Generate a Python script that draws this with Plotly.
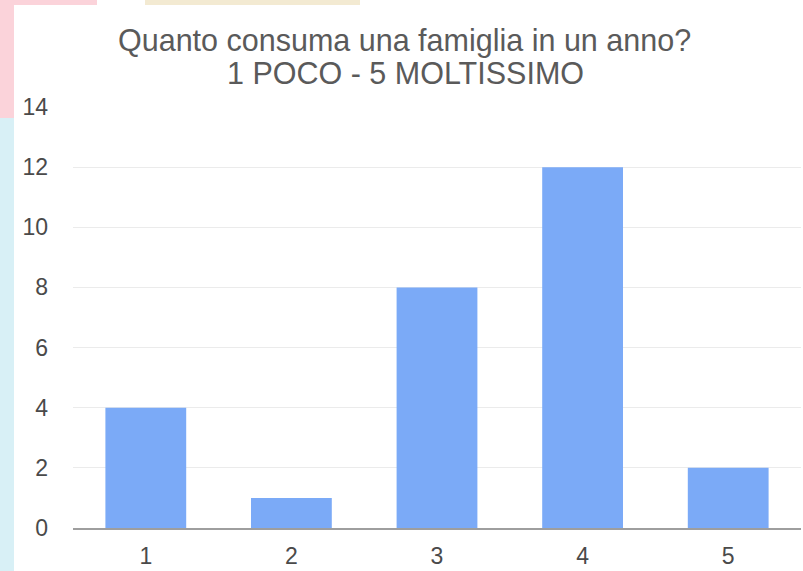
import plotly.graph_objects as go

categories = ["1", "2", "3", "4", "5"]
values = [4, 1, 8, 12, 2]
y_ticks = [0, 2, 4, 6, 8, 10, 12, 14]
title_lines = ["Quanto consuma una famiglia in un anno?", "1 POCO - 5 MOLTISSIMO"]

W, H = 803, 571
L, R, T, B = 73, 2, 107, 43
pw, ph = W - L - R, H - T - B

def px(x):
    return (x - L) / pw

def py(y):
    return (H - B - y) / ph

fig = go.Figure()
fig.add_trace(go.Bar(
    x=categories, y=values,
    marker=dict(color="#7baaf7", line=dict(width=0)),
    width=0.555,
))

shapes = [
    dict(type="rect", xref="paper", yref="paper", x0=px(0), x1=px(14), y0=py(0), y1=py(118),
         fillcolor="#fbd3da", line=dict(width=0), layer="below"),
    dict(type="rect", xref="paper", yref="paper", x0=px(0), x1=px(14), y0=py(118), y1=py(571),
         fillcolor="#d8f0f6", line=dict(width=0), layer="below"),
    dict(type="rect", xref="paper", yref="paper", x0=px(0), x1=px(97), y0=py(0), y1=py(5),
         fillcolor="#fbd3da", line=dict(width=0), layer="below"),
    dict(type="rect", xref="paper", yref="paper", x0=px(145), x1=px(360), y0=py(0), y1=py(5),
         fillcolor="#f3ead2", line=dict(width=0), layer="below"),
]

annotations = [
    dict(text=title_lines[0], xref="paper", yref="paper", x=px(404), y=py(41),
         xanchor="center", yanchor="middle", showarrow=False,
         font=dict(size=30.5, color="#5a5a5a")),
    dict(text=title_lines[1], xref="paper", yref="paper", x=px(405), y=py(73),
         xanchor="center", yanchor="middle", showarrow=False,
         font=dict(size=30.5, color="#5a5a5a")),
]

fig.update_layout(
    width=W, height=H,
    margin=dict(l=L, r=R, t=T, b=B),
    paper_bgcolor="white", plot_bgcolor="white",
    font=dict(family="Liberation Sans, Arial, sans-serif", color="#4a4a4a"),
    showlegend=False,
    shapes=shapes,
    annotations=annotations,
)
fig.update_yaxes(
    range=[0, 14], tickvals=y_ticks, showgrid=True, gridcolor="#ebebeb", gridwidth=1,
    zeroline=False, showline=False, tickfont=dict(size=23, color="#4a4a4a"),
    ticklabelstandoff=24,
)
fig.update_xaxes(
    showline=True, linecolor="#9e9e9e", linewidth=2, showgrid=False,
    tickfont=dict(size=23, color="#4a4a4a"), ticklabelstandoff=6,
)
fig.write_html("out.html", config={"displayModeBar": False},
               post_script="document.body.style.margin='0px';")
